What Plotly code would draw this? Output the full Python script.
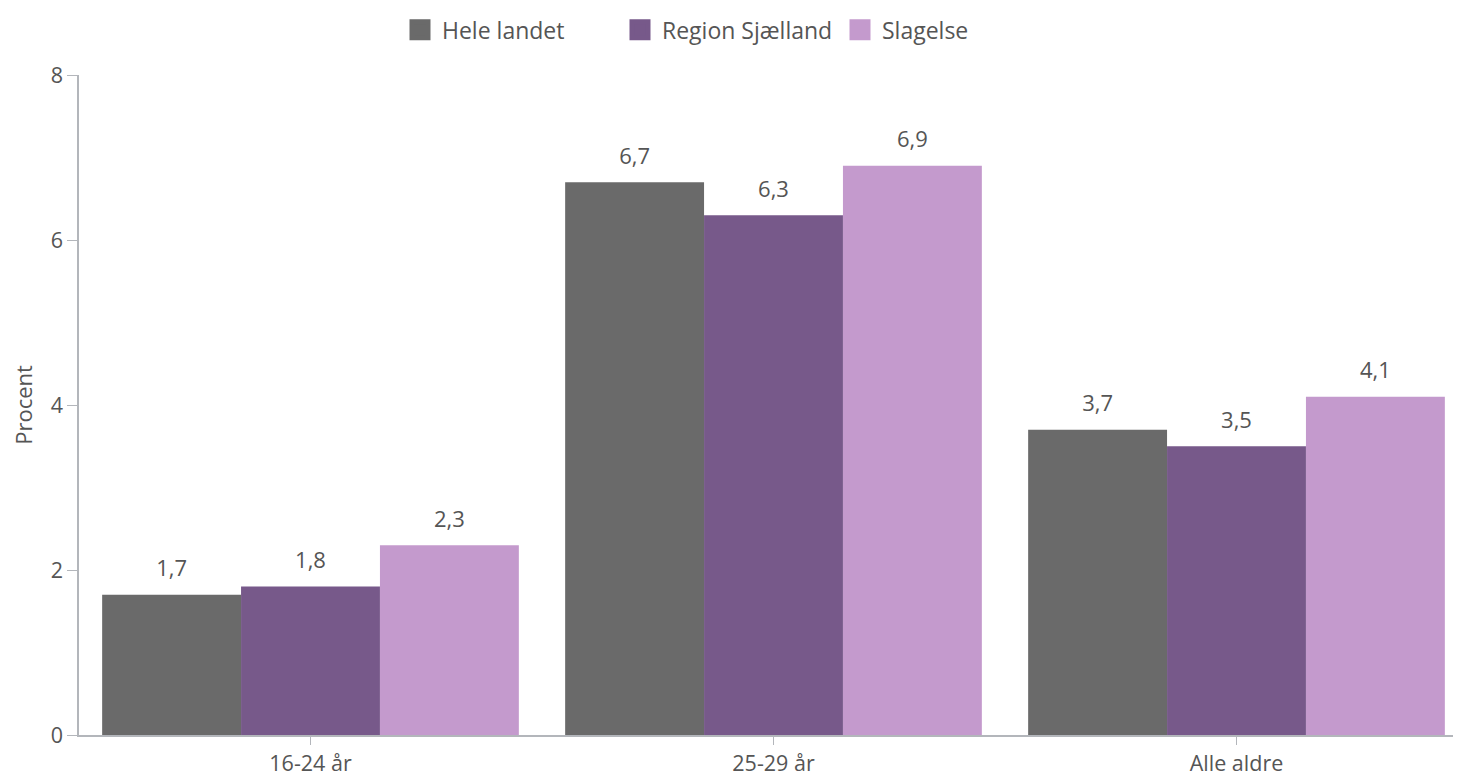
import plotly.graph_objects as go

categories = ["16-24 år", "25-29 år", "Alle aldre"]
series_names = ["Hele landet", "Region Sjælland", "Slagelse"]
hele_landet = [1.7, 6.7, 3.7]
region_sjaelland = [1.8, 6.3, 3.5]
slagelse = [2.3, 6.9, 4.1]
colors = ["#6a6a6a", "#77598a", "#c49acd"]
y_ticks = [0, 2, 4, 6, 8]

fig = go.Figure()
series = [hele_landet, region_sjaelland, slagelse]
for i, (name, vals, col) in enumerate(zip(series_names, series, colors)):
    fig.add_trace(go.Bar(
        x=categories, y=vals, name=name, marker=dict(color=col, line=dict(width=0)),
        offsetgroup=str(i), showlegend=False,
    ))
for i, (name, vals, col) in enumerate(zip(series_names, series, colors)):
    fig.add_trace(go.Scatter(
        x=categories, y=vals, mode="markers+text", offsetgroup=str(i),
        text=[f"{v:.1f}".replace(".", ",") for v in vals], textposition="top center",
        textfont=dict(size=22, color="#555555"),
        marker=dict(size=19, opacity=0), showlegend=False, hoverinfo="skip", cliponaxis=False,
    ))
# legend entries
for name, col in zip(series_names, colors):
    fig.add_trace(go.Scatter(
        x=[None], y=[None], mode="markers", name=name,
        marker=dict(symbol="square", size=26, color=col, line=dict(color=col, width=10)),
        showlegend=True,
    ))

fig.update_layout(
    width=1461, height=778,
    barmode="group", bargap=0.1, bargroupgap=0,
    scattermode="group", scattergap=0.1,
    separators=",.",
    paper_bgcolor="white", plot_bgcolor="white",
    font=dict(family="Open Sans, Noto Sans, sans-serif", size=21, color="#555555"),
    margin=dict(l=71, r=1, t=67, b=51, autoexpand=False),
    showlegend=True,
    legend=dict(orientation="h", x=390 / 1461, xanchor="left", xref="container",
                y=0.972, yanchor="middle", yref="container",
                font=dict(size=23, color="#555555"),
                entrywidth=171, itemwidth=34, itemsizing="trace", traceorder="normal"),
    xaxis=dict(showline=True, linecolor="#b3b6bb", linewidth=1.5, ticks="outside",
               tickcolor="#b3b6bb", ticklen=8, showgrid=False, tickfont=dict(size=21.5),
               automargin=False, range=[-0.5, 2.5]),
    yaxis=dict(range=[0, 8], tickvals=y_ticks, showline=True, linecolor="#b3b6bb",
               linewidth=1.5, ticks="outside", tickcolor="#b3b6bb", ticklen=10,
               showgrid=False, zeroline=False, tickfont=dict(size=21.5), automargin=False,
               title=dict(text="Procent", font=dict(size=22), standoff=20)),
)
fig.write_html("out.html")
